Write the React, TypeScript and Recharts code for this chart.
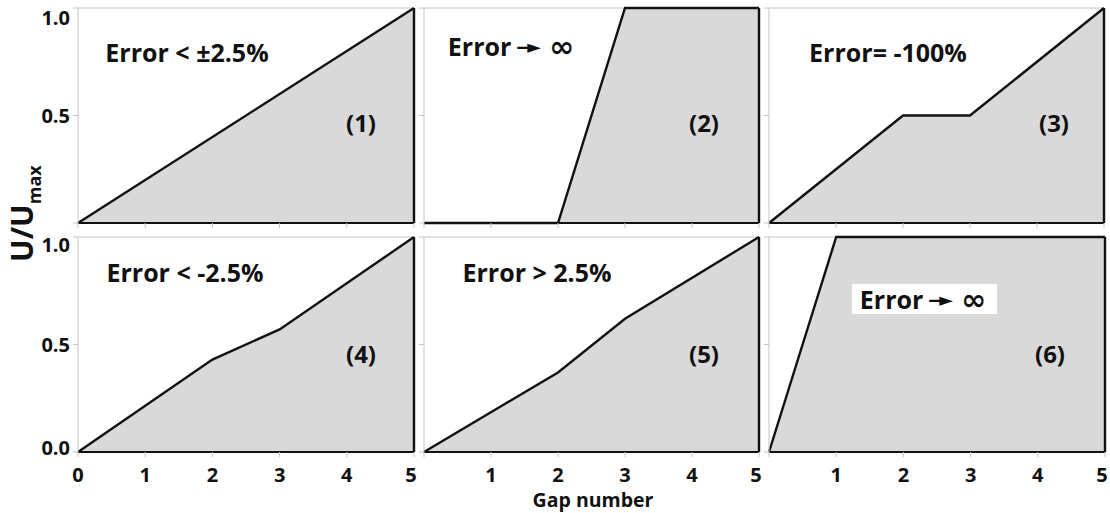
import React from "react";
import {
  AreaChart,
  Area,
  XAxis,
  YAxis,
  CartesianGrid,
  ReferenceLine,
} from "recharts";

// gap number (x) and normalised velocity U/Umax (y) for each case
const gap1 = [0, 5];
const u1 = [0, 1];
const gap2 = [0, 2, 3, 5];
const u2 = [0, 0, 1, 1];
const gap3 = [0, 2, 3, 5];
const u3 = [0, 0.5, 0.5, 1];
const gap4 = [0, 2, 3, 5];
const u4 = [0, 0.43, 0.57, 1];
const gap5 = [0, 2, 3, 5];
const u5 = [0, 0.37, 0.62, 1];
const gap6 = [0, 1, 5];
const u6 = [0, 1, 1];

const xTicks = [0, 1, 2, 3, 4, 5];
const yTicks = [0, 0.5, 1];

const captions = [
  "Error < \u00b12.5%",
  "Error",
  "Error= -100%",
  "Error < -2.5%",
  "Error > 2.5%",
  "Error",
];
const captionArrow = [false, true, false, false, false, true];
const numbers = ["(1)", "(2)", "(3)", "(4)", "(5)", "(6)"];

const FONT = "'Open Sans', 'DejaVu Sans', sans-serif";
const GRID = "#c4c4c4";

const toRows = (xs: number[], ys: number[]) => xs.map((x, i) => ({ x, u: ys[i] }));

type Panel = {
  data: { x: number; u: number }[];
  left: number;
  top: number;
  w: number;
  h: number;
  yLabels: number[];
  xLabels: number[];
  topShift: number;
};

const ROW1 = 8;
const ROW2 = 237;
const PH = 215;
const COLS = [78, 424, 769];
const PW = 336;

const panels: Panel[] = [
  { data: toRows(gap1, u1), left: COLS[0], top: ROW1, w: PW, h: PH, yLabels: [0.5, 1], xLabels: [], topShift: 9 },
  { data: toRows(gap2, u2), left: COLS[1], top: ROW1, w: PW - 1, h: PH, yLabels: [], xLabels: [], topShift: 9 },
  { data: toRows(gap3, u3), left: COLS[2], top: ROW1, w: PW - 1, h: PH, yLabels: [], xLabels: [], topShift: 9 },
  { data: toRows(gap4, u4), left: COLS[0], top: ROW2, w: PW, h: PH, yLabels: [0, 0.5, 1], xLabels: [0, 1, 2, 3, 4, 5], topShift: 7 },
  { data: toRows(gap5, u5), left: COLS[1], top: ROW2, w: PW - 1, h: PH, yLabels: [], xLabels: [1, 2, 3, 4, 5], topShift: 7 },
  { data: toRows(gap6, u6), left: COLS[2], top: ROW2, w: PW, h: PH, yLabels: [], xLabels: [1, 2, 3, 4, 5], topShift: 7 },
];

const ML = 80;
const MT = 12;
const MR = 12;
const MB = 45;

function SmallPanel({ p }: { p: Panel }) {
  const yTick = (props: any) => {
    const v = props.payload.value;
    if (!p.yLabels.includes(v)) return <g />;
    const dy = v === 1 ? p.topShift : v === 0 ? -5 : 0;
    return (
      <text x={props.x} y={props.y + dy} textAnchor="end" dominantBaseline="central"
        fontFamily={FONT} fontWeight={700} fontSize={20} fill="#111">
        {v.toFixed(1)}
      </text>
    );
  };
  const xTick = (props: any) => {
    const v = props.payload.value;
    if (!p.xLabels.includes(v)) return <g />;
    const dx = v === 5 ? -3 : 0;
    return (
      <text x={props.x + dx} y={props.y} dy="0.71em" textAnchor="middle"
        fontFamily={FONT} fontWeight={700} fontSize={20} fill="#111">
        {v}
      </text>
    );
  };
  return (
    <div style={{ position: "absolute", left: p.left - ML, top: p.top - MT }}>
      <AreaChart
        width={p.w + ML + MR}
        height={p.h + MT + MB}
        data={p.data}
        margin={{ top: MT, right: MR, left: 0, bottom: 0 }}
      >
        {/* light frame line along the top of each panel */}
        <CartesianGrid
          vertical={false}
          stroke={GRID}
          strokeDasharray=""
          horizontalCoordinatesGenerator={(g: any) => [g.offset.top]}
        />
        <XAxis
          type="number"
          dataKey="x"
          domain={[0, 5]}
          ticks={xTicks}
          height={MB}
          axisLine={{ stroke: "#111", strokeWidth: 2.2 }}
          tickLine={{ stroke: GRID }}
          tickSize={5}
          tickMargin={11}
          tick={xTick}
        />
        <YAxis
          type="number"
          domain={[0, 1]}
          ticks={yTicks}
          width={ML}
          axisLine={{ stroke: GRID }}
          tickLine={{ stroke: GRID }}
          tickSize={5}
          tickMargin={3}
          tick={yTick}
        />
        <Area
          type="linear"
          dataKey="u"
          stroke="#111"
          strokeWidth={2.4}
          fill="#d9d9d9"
          fillOpacity={1}
          isAnimationActive={false}
          dot={false}
          activeDot={false}
        />
        <ReferenceLine x={5} stroke="#111" strokeWidth={2.4} ifOverflow="visible" />
      </AreaChart>
    </div>
  );
}

// caption centres: [x, y] of "Error ..." text and of the case number
const captionPos = [
  [187, 52], [511, 46], [888, 52],
  [185, 272], [537, 272], [923, 299],
];
const numberPos = [
  [361, 122], [704, 122], [1054, 122],
  [361, 353], [704, 353], [1050, 353],
];

export default function App() {
  return (
    <div style={{ position: "absolute", left: 0, top: 0, width: 1110, height: 513, background: "#fff", overflow: "hidden" }}>
      {panels.map((p, i) => (
        <SmallPanel key={i} p={p} />
      ))}
      <svg width={1110} height={513} style={{ position: "absolute", left: 0, top: 0, pointerEvents: "none" }}>
        <rect x={852} y={284} width={145} height={30} fill="#fff" />
        {captions.map((c, i) => (
          <text key={"c" + i} x={captionPos[i][0]} y={captionPos[i][1]} textAnchor="middle" dominantBaseline="central"
            fontFamily={FONT} fontWeight={700} fontSize={25} fill="#111">
            {c}
            {captionArrow[i] && (
              <>
                <tspan fontFamily="'DejaVu Sans', sans-serif" fontSize={18} dx={5} letterSpacing={-7}>{"\u2014\u25ba"}</tspan>
                <tspan fontFamily="'DejaVu Sans', sans-serif" fontSize={30} dx={15}>{"\u221e"}</tspan>
              </>
            )}
          </text>
        ))}
        {numbers.map((n, i) => (
          <text key={"n" + i} x={numberPos[i][0]} y={numberPos[i][1]} textAnchor="middle" dominantBaseline="central"
            fontFamily={FONT} fontWeight={700} fontSize={24} fill="#111">
            {n}
          </text>
        ))}
        <text x={593} y={499} textAnchor="middle" dominantBaseline="central"
          fontFamily={FONT} fontWeight={700} fontSize={19.5} fill="#111">
          Gap number
        </text>
        <text transform="translate(33,262) rotate(-90)" textAnchor="start"
          fontFamily={FONT} fontWeight={700} fontSize={30} fill="#111">
          U/U<tspan dy={8} fontSize={18}>max</tspan>
        </text>
      </svg>
    </div>
  );
}
